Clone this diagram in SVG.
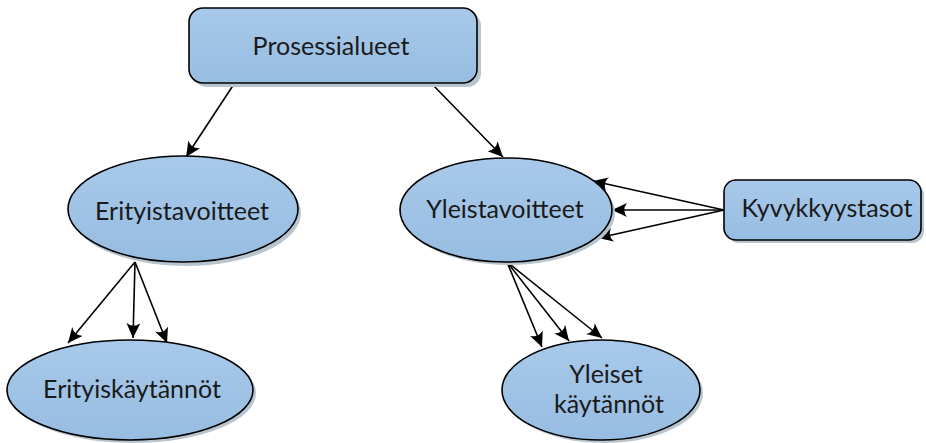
<svg xmlns="http://www.w3.org/2000/svg" width="926" height="443" viewBox="0 0 926 443">
  <defs>
    <linearGradient id="nodeFill" x1="0" y1="0" x2="0" y2="1">
      <stop offset="0" stop-color="#a8c9e9"/>
      <stop offset="1" stop-color="#97bde2"/>
    </linearGradient>
    <marker id="arrow" markerUnits="userSpaceOnUse" markerWidth="17" markerHeight="15" refX="15" refY="7" orient="auto">
      <path d="M15,7 L0,0 Q5.5,7 0,14 Z" fill="#000"/>
    </marker>
  </defs>
  <style>
    .shadow { fill: #b9c5ce; }
    .node { fill: url(#nodeFill); stroke: #000; stroke-width: 1.6; }
    .label { font-family: Lato, "Liberation Sans", sans-serif; font-size: 25px; fill: #1a1a1a; text-anchor: middle; }
    .edge { stroke: #000; stroke-width: 1.6; fill: none; marker-end: url(#arrow); }
  </style>

  <rect width="926" height="443" fill="#fff"/>

  <g id="connectors">
    <line class="edge" x1="234" y1="84" x2="186" y2="157"/>
    <line class="edge" x1="432" y1="84" x2="503" y2="157"/>
    <line class="edge" x1="724" y1="210" x2="593" y2="181"/>
    <line class="edge" x1="724" y1="210" x2="612" y2="210"/>
    <line class="edge" x1="724" y1="210" x2="598" y2="238"/>
    <line class="edge" x1="135" y1="262" x2="68" y2="343"/>
    <line class="edge" x1="135" y1="262" x2="133" y2="338"/>
    <line class="edge" x1="135" y1="262" x2="167" y2="343"/>
    <line class="edge" x1="507" y1="262" x2="542" y2="347"/>
    <line class="edge" x1="507" y1="262" x2="569" y2="341"/>
    <line class="edge" x1="507" y1="262" x2="602" y2="338"/>
  </g>

  <g id="prosessialueet">
    <rect class="shadow" x="193" y="12" width="288" height="75" rx="14"/>
    <rect class="node" x="189" y="8" width="288" height="75" rx="14"/>
    <text class="label" x="331" y="55">Prosessialueet</text>
  </g>

  <g id="erityistavoitteet">
    <ellipse class="shadow" cx="186" cy="213" rx="115" ry="53"/>
    <ellipse class="node" cx="183" cy="209" rx="115" ry="53"/>
    <text class="label" x="182" y="220">Erityistavoitteet</text>
  </g>

  <g id="yleistavoitteet">
    <ellipse class="shadow" cx="509" cy="213" rx="106" ry="52"/>
    <ellipse class="node" cx="506" cy="210" rx="106" ry="52"/>
    <text class="label" x="505" y="218">Yleistavoitteet</text>
  </g>

  <g id="kyvykkyystasot">
    <rect class="shadow" x="727" y="183" width="197" height="60" rx="12"/>
    <rect class="node" x="724" y="180" width="197" height="60" rx="12"/>
    <text class="label" x="827" y="217">Kyvykkyystasot</text>
  </g>

  <g id="erityiskaytannot">
    <ellipse class="shadow" cx="133" cy="393" rx="123" ry="50"/>
    <ellipse class="node" cx="130" cy="390" rx="123" ry="50"/>
    <text class="label" x="132" y="398">Erityiskäytännöt</text>
  </g>

  <g id="yleiset-kaytannot">
    <ellipse class="shadow" cx="604" cy="393" rx="99" ry="50"/>
    <ellipse class="node" cx="601" cy="390" rx="99" ry="50"/>
    <text class="label" x="606" y="383">Yleiset</text>
    <text class="label" x="609" y="413">käytännöt</text>
  </g>
</svg>
